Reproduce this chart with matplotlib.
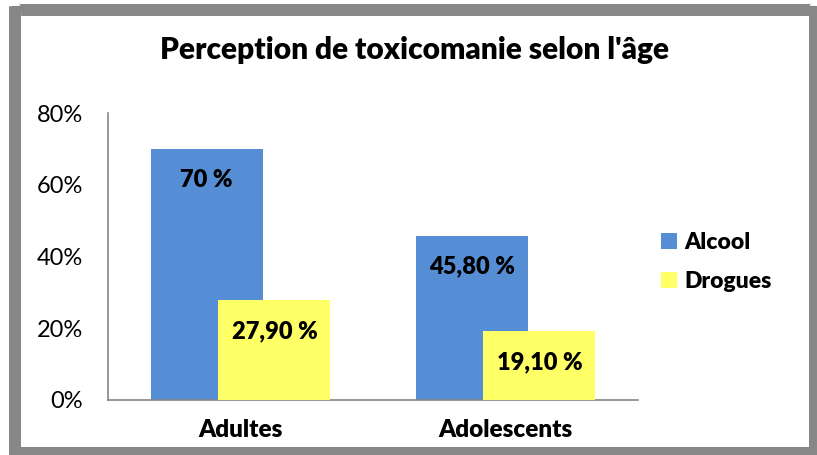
import matplotlib
matplotlib.use("Agg")
import matplotlib.pyplot as plt
from matplotlib.patches import FancyBboxPatch
import numpy as np

categories = ["Adultes", "Adolescents"]
series_names = ["Alcool", "Drogues"]
alcool = [70.0, 45.8]
drogues = [27.9, 19.1]
alcool_labels = ["70 %", "45,80 %"]
drogues_labels = ["27,90 %", "19,10 %"]
yticks = [0, 20, 40, 60, 80]
ytick_labels = ["0%", "20%", "40%", "60%", "80%"]

plt.rcParams['font.family'] = ['Lato', 'DejaVu Sans']
BW = "heavy"

W, H = 817, 455
fig = plt.figure(figsize=(W / 100, H / 100), dpi=100)
fig.patch.set_facecolor("white")

# gray frame
lw_px = 12
frame = FancyBboxPatch((15 / W, 1 - 10 / H), (815 - 15) / W, -(453 - 10) / H,
                       boxstyle="round,pad=0,rounding_size=0.008",
                       transform=fig.transFigure, fill=False,
                       edgecolor="#878787", linewidth=lw_px * 72 / 100, zorder=0)
fig.patches.append(frame)

ax = fig.add_axes([108 / W, (H - 400) / H, 530 / W, 287 / H])
ax.set_facecolor("none")

x = np.arange(len(categories))
bw = 0.423
off = 0.128
blue = "#558ED5"
yellow = "#FFFF66"
ax.bar(x - off, alcool, bw, color=blue, label=series_names[0], zorder=2)
ax.bar(x + off, drogues, bw, color=yellow, label=series_names[1], zorder=3)

for xi, v, t in zip(x - off, alcool, alcool_labels):
    ax.annotate(t, xy=(xi, v), xytext=(0, -31), textcoords="offset pixels",
                ha="center", va="center", fontsize=17, fontweight=BW, zorder=4)
for xi, v, t in zip(x + off, drogues, drogues_labels):
    ax.annotate(t, xy=(xi, v), xytext=(0, -31), textcoords="offset pixels",
                ha="center", va="center", fontsize=17, fontweight=BW, zorder=4)

ax.set_xlim(-0.5, 1.5)
ax.set_ylim(0, 80)
ax.set_yticks(yticks)
ax.set_yticklabels(ytick_labels, fontsize=17)
ax.set_xticks(x)
ax.set_xticklabels(categories, fontsize=17.5, fontweight=BW)
ax.tick_params(axis="y", length=0, pad=18)
ax.tick_params(axis="x", length=0, pad=14)
for s in ["top", "right"]:
    ax.spines[s].set_visible(False)
for s in ["left", "bottom"]:
    ax.spines[s].set_color("#868686")
    ax.spines[s].set_linewidth(1.2)

fig.text(415 / W, 1 - 50 / H, "Perception de toxicomanie selon l'âge",
         ha="center", va="center", fontsize=21.5, fontweight=BW)

leg = ax.legend(loc="center left", bbox_to_anchor=(640 / W, 1 - 262 / H),
                bbox_transform=fig.transFigure, frameon=False,
                prop={"size": 16.5, "weight": BW},
                handlelength=0.7, handleheight=0.7, handletextpad=0.35,
                labelspacing=0.8)

fig.savefig("out.png", dpi=100, facecolor="white")
